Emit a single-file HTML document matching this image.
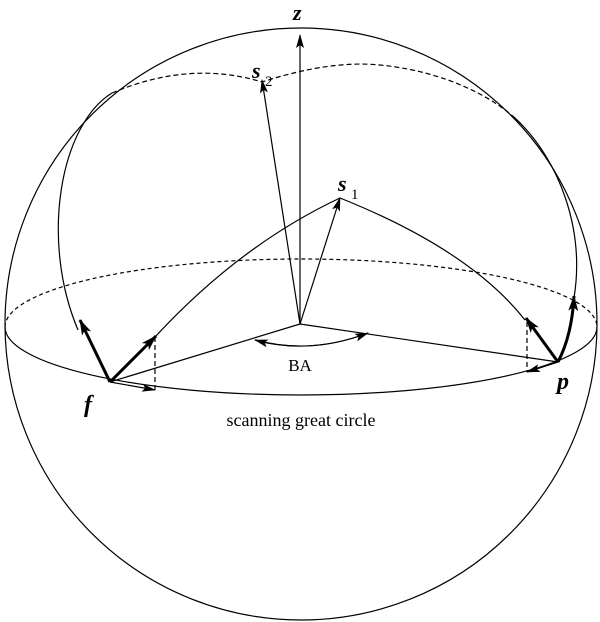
<!DOCTYPE html>
<html><head><style>body{margin:0;background:#fff}svg{display:block}</style></head><body>
<svg width="600" height="622" viewBox="0 0 600 622" xmlns="http://www.w3.org/2000/svg" font-family="Liberation Serif, serif">
<defs>
<marker id="a" markerWidth="14" markerHeight="8" refX="13" refY="4" orient="auto" markerUnits="userSpaceOnUse"><path d="M0,0 L14,4 L0,8 L3,4z" fill="#000"/></marker>
<marker id="b" markerWidth="16" markerHeight="10" refX="15" refY="5" orient="auto" markerUnits="userSpaceOnUse"><path d="M0,0 L16,5 L0,10 L4,5z" fill="#000"/></marker>
</defs>
<g fill="none" stroke="#000" stroke-width="1.2">
<circle cx="301" cy="324" r="296"/>
<path d="M5,327 A296,68 0 0 0 597,327"/>
<path d="M5,327 A296,68 0 0 1 597,327" stroke-dasharray="4,3"/>
<path d="M112,93 Q190,60 262,82 Q330,60 380,65 C450,72 495,100 515,118" stroke-dasharray="5,3"/>
<path d="M112,93 C60,125 40,240 78,330"/>
<path d="M515,118 C560,160 585,230 574,298"/>
<line x1="300" y1="324" x2="110" y2="382"/>
<line x1="300" y1="324" x2="558" y2="362"/>
<path d="M340,198 Q240,245 155,337"/>
<path d="M340,198 Q470,250 525,320"/>
<line x1="300" y1="324" x2="300" y2="35" marker-end="url(#a)"/>
<line x1="300" y1="324" x2="262" y2="80" marker-end="url(#a)"/>
<line x1="300" y1="324" x2="340" y2="198" marker-end="url(#a)"/>
<path d="M255,340 Q310,355 368,333" marker-end="url(#a)"/>
<path d="M368,333 Q310,355 255,340" marker-end="url(#a)"/>
<line x1="155" y1="337" x2="155" y2="390" stroke-dasharray="5,3"/>
<line x1="527" y1="322" x2="527" y2="372" stroke-dasharray="5,3"/>
<path d="M110,382 L155,390" marker-end="url(#a)"/>
<path d="M558,362 L527,372" marker-end="url(#a)"/>
<g stroke-width="3">
<line x1="110" y1="382" x2="80" y2="320" marker-end="url(#b)"/>
<line x1="110" y1="382" x2="156" y2="336" marker-end="url(#b)"/>
<line x1="558" y1="362" x2="526" y2="318" marker-end="url(#b)"/>
<path d="M558,362 Q572,335 574,296" marker-end="url(#b)"/>
</g>
</g>
<g fill="#000">
<text x="293" y="20" font-size="22" font-weight="bold" font-style="italic">z</text>
<text x="252" y="78" font-size="22" font-weight="bold" font-style="italic">s</text>
<text x="265" y="86" font-size="15">2</text>
<text x="338" y="191" font-size="22" font-weight="bold" font-style="italic">s</text>
<text x="351" y="199" font-size="15">1</text>
<text x="84" y="412" font-size="24" font-weight="bold" font-style="italic">f</text>
<text x="557" y="389" font-size="24" font-weight="bold" font-style="italic">p</text>
<text x="300" y="371" font-size="17" text-anchor="middle">BA</text>
<text x="301" y="426" font-size="18" text-anchor="middle">scanning great circle</text>
</g>
</svg>
</body></html>
